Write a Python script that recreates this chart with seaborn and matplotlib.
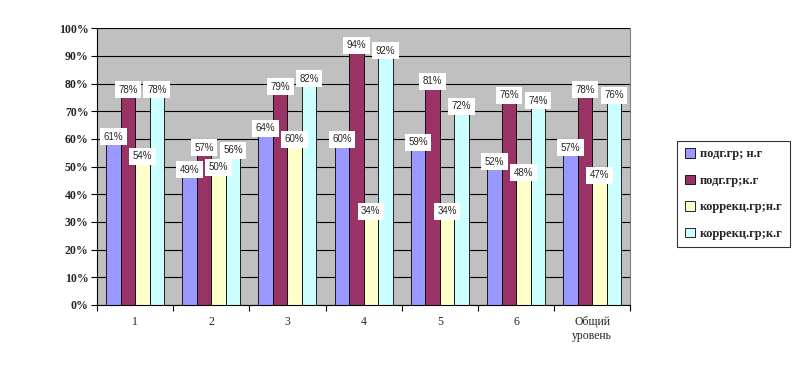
import matplotlib
matplotlib.use("Agg")
import matplotlib.pyplot as plt
import seaborn as sns
import pandas as pd
import numpy as np
from matplotlib.ticker import FuncFormatter, FixedLocator

categories = ["1", "2", "3", "4", "5", "6", "Общий\nуровень"]
series = ["подг.гр; н.г", "подг.гр;к.г", "коррекц.гр;н.г", "коррекц.гр;к.г"]
pg_ng = [61, 49, 64, 60, 59, 52, 57]
pg_kg = [78, 57, 79, 94, 81, 76, 78]
kg_ng = [54, 50, 60, 34, 34, 48, 47]
kg_kg = [78, 56, 82, 92, 72, 74, 76]
colors = ["#9999FF", "#993366", "#FFFFCC", "#CCFFFF"]

rows = []
for s, vals in zip(series, [pg_ng, pg_kg, kg_ng, kg_kg]):
    for c, v in zip(categories, vals):
        rows.append({"cat": c, "series": s, "val": v / 100})
df = pd.DataFrame(rows)

sns.set_style("white")
plt.rcParams["font.family"] = ["Liberation Serif", "DejaVu Serif"]

fig = plt.figure(figsize=(8.01, 3.66), dpi=100)
ax = fig.add_axes([0.121, 0.167, 0.666, 0.756])
ax.set_facecolor("#C0C0C0")

sns.barplot(data=df, x="cat", y="val", hue="series", palette=colors,
            order=categories, hue_order=series, width=0.76,
            edgecolor="black", linewidth=0.6, ax=ax, legend=True, saturation=1)

for cont in ax.containers:
    labels = [f"{int(round(r.get_height()*100))}%" for r in cont]
    ax.bar_label(cont, labels=labels, padding=-4, fontsize=7,
                 family=["Liberation Sans", "DejaVu Sans"],
                 bbox=dict(facecolor="white", edgecolor="none", pad=2.5))

ax.set_ylim(0, 1.0)
ax.set_xlim(-0.5, len(categories) - 0.5)
ax.yaxis.set_major_locator(FixedLocator(np.arange(0, 1.01, 0.1)))
ax.yaxis.set_major_formatter(FuncFormatter(lambda v, p: f"{v*100:.0f}%"))
ax.grid(axis="y", color="black", linewidth=0.8)
ax.set_axisbelow(True)
ax.set_xlabel("")
ax.set_ylabel("")
for lab in ax.get_yticklabels():
    lab.set_fontsize(8.5)
    lab.set_fontweight("bold")
ax.tick_params(axis="y", length=4, width=0.8, color="black", direction="out", left=True, pad=2)
ax.tick_params(axis="x", which="major", length=0, labelsize=8.5, pad=8)
ax.set_xticks(np.arange(-0.5, len(categories), 1.0), minor=True)
ax.tick_params(axis="x", which="minor", length=4, width=0.8, color="black", direction="out", bottom=True)

for sp in ["left", "bottom"]:
    ax.spines[sp].set_color("black")
    ax.spines[sp].set_linewidth(0.8)
ax.spines["top"].set_visible(False)
ax.spines["right"].set_color("#808080")
ax.spines["right"].set_linewidth(0.8)

leg = ax.legend(loc="upper left", bbox_to_anchor=(0.838, 0.633), bbox_transform=fig.transFigure,
                frameon=True, fancybox=False, edgecolor="black",
                handlelength=0.8, handleheight=0.8, handletextpad=0.4,
                labelspacing=1.15, borderpad=0.6, prop={"weight": "bold", "size": 9})
leg.get_frame().set_linewidth(0.8)
for h in leg.legend_handles:
    h.set_edgecolor("black")
    h.set_linewidth(0.6)

fig.savefig("out.png", dpi=100)
